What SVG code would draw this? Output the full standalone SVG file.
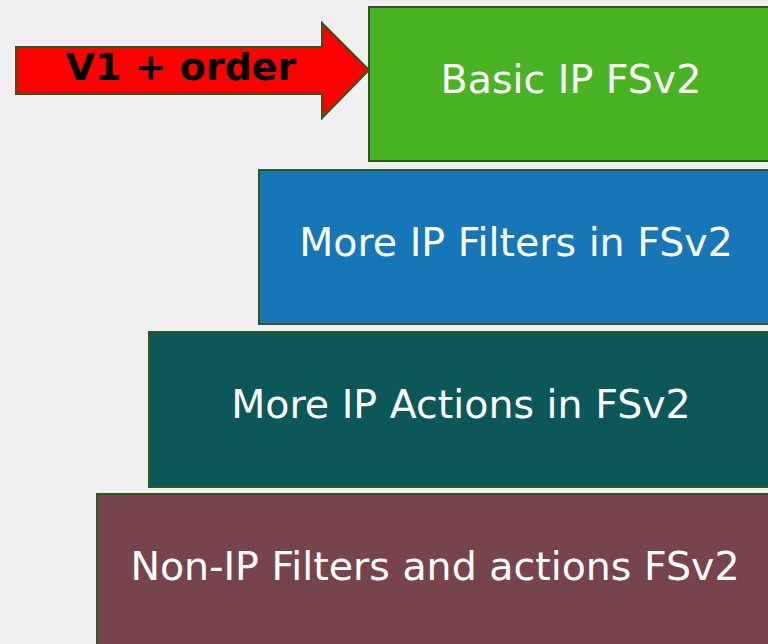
<svg xmlns="http://www.w3.org/2000/svg" width="768" height="644" viewBox="0 0 768 644">
<style>
.box{stroke:#2b5a1c;stroke-width:2}
.lbl{font-family:"DejaVu Sans",Verdana,sans-serif;font-size:39.5px;fill:#ffffff;text-anchor:middle}
.arr{font-family:"DejaVu Sans",Verdana,sans-serif;font-size:38px;font-weight:bold;fill:#000000;text-anchor:middle}
</style>
<rect width="768" height="644" fill="#f1eff2"/>
<g id="node-basic">
<rect class="box" x="369" y="7" width="405" height="154" fill="#4ab324"/>
<text class="lbl" x="571" y="93">Basic IP FSv2</text>
</g>
<g id="node-filters">
<rect class="box" x="259" y="170" width="515" height="154" fill="#1776b8"/>
<text class="lbl" x="516" y="256">More IP Filters in FSv2</text>
</g>
<g id="node-actions">
<rect class="box" x="149" y="332" width="625" height="155" fill="#0c5757"/>
<text class="lbl" x="461" y="418">More IP Actions in FSv2</text>
</g>
<g id="node-nonip">
<rect class="box" x="97" y="494" width="677" height="160" fill="#77444c"/>
<text class="lbl" x="435" y="580">Non-IP Filters and actions FSv2</text>
</g>
<g id="connectors">
<g id="arrow-v1">
<polygon points="16,47 322,47 322,23 369,70 322,118 322,94 16,94" fill="#ff0000" stroke="#2b5a1c" stroke-width="2"/>
<text class="arr" x="181" y="80">V1 + order</text>
</g>
</g>
</svg>
